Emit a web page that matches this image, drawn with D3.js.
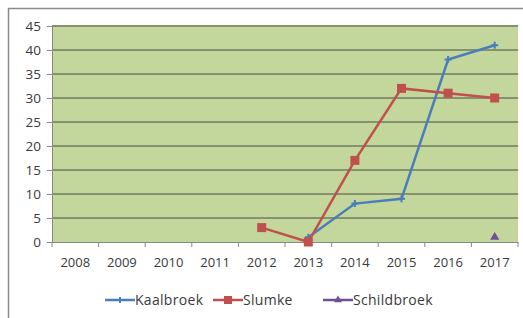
<!DOCTYPE html>
<html>
<head>
<meta charset="utf-8">
<script src="https://cdn.jsdelivr.net/npm/d3@7"></script>
<style>
  body { margin: 0; background: #fff; }
  text { font-family: 'Open Sans', sans-serif; fill: #3a3a3a; }
</style>
</head>
<body>
<div id="chart"></div>
<script>
// Data
const years = ['2008', '2009', '2010', '2011', '2012', '2013', '2014', '2015', '2016', '2017'];
const kaalbroek = [null, null, null, null, null, 1, 8, 9, 38, 41];
const slumke = [null, null, null, null, 3, 0, 17, 32, 31, 30];
const schildbroek = [null, null, null, null, null, null, null, null, null, 1];
const yTicks = [0, 5, 10, 15, 20, 25, 30, 35, 40, 45];

const series = [
  { name: 'Kaalbroek', values: kaalbroek, color: '#4a7ebb', marker: 'plus' },
  { name: 'Slumke', values: slumke, color: '#c0504d', marker: 'square' },
  { name: 'Schildbroek', values: schildbroek, color: '#6f4f96', marker: 'triangle' }
];

// Graph setup
const width = 523;
const height = 318;
const margin = { top: 26, right: 5, bottom: 75, left: 52 };

const svg = d3.select('#chart')
  .append('svg')
  .attr('width', width)
  .attr('height', height);

// outer chart border
svg.append('rect')
  .attr('x', 8.5).attr('y', 8.5)
  .attr('width', width + 10).attr('height', height + 10)
  .attr('fill', 'none')
  .attr('stroke', '#8a8a8a')
  .attr('stroke-width', 1.5);

const x = d3.scaleBand()
  .domain(years)
  .range([margin.left, width - margin.right]);

const y = d3.scaleLinear()
  .domain([0, 45])
  .range([height - margin.bottom - 1, margin.top]);

// plot area
svg.append('rect')
  .attr('x', margin.left)
  .attr('y', y(45))
  .attr('width', x.range()[1] - margin.left)
  .attr('height', y(0) - y(45))
  .attr('fill', '#c3d69b');

// gridlines
svg.append('g')
  .selectAll('line')
  .data(yTicks.filter(d => d > 0))
  .enter()
  .append('line')
  .attr('x1', margin.left)
  .attr('x2', x.range()[1])
  .attr('y1', d => y(d))
  .attr('y2', d => y(d))
  .attr('stroke', '#84936c')
  .attr('stroke-width', 2);

// y axis
const yAxis = svg.append('g')
  .attr('transform', `translate(${margin.left},0)`)
  .call(d3.axisLeft(y).tickValues(yTicks).tickSize(5).tickPadding(6));
yAxis.select('.domain').attr('stroke', '#888');
yAxis.selectAll('.tick line').attr('stroke', '#888');
yAxis.selectAll('text').style('font-size', '13.5px').attr('fill', '#3a3a3a');

// x axis (ticks between categories)
const xAxis = svg.append('g')
  .attr('transform', `translate(0,${y(0)})`)
  .call(d3.axisBottom(x).tickSize(0).tickPadding(16));
xAxis.select('.domain').attr('stroke', '#888');
xAxis.selectAll('text').style('font-size', '13px').attr('fill', '#3a3a3a');

svg.append('g')
  .selectAll('line')
  .data(years.concat(['end']))
  .enter()
  .append('line')
  .attr('x1', (d, i) => margin.left + i * x.step())
  .attr('x2', (d, i) => margin.left + i * x.step())
  .attr('y1', y(0))
  .attr('y2', y(0) + 5)
  .attr('stroke', '#888');

// lines and markers
const line = d3.line()
  .defined(d => d.v !== null)
  .x(d => x(d.year) + x.bandwidth() / 2)
  .y(d => y(d.v));

function drawMarker(g, type, color, size) {
  if (type === 'square') {
    g.append('rect')
      .attr('x', -size).attr('y', -size)
      .attr('width', size * 2).attr('height', size * 2)
      .attr('fill', color);
  } else if (type === 'triangle') {
    g.append('path')
      .attr('d', d3.symbol(d3.symbolTriangle, size * size * 3)())
      .attr('fill', color);
  } else {
    g.append('path')
      .attr('d', `M${-size},0H${size}M0,${-size}V${size}`)
      .attr('stroke', color)
      .attr('stroke-width', 2);
  }
}

series.forEach(s => {
  const pts = years.map((yr, i) => ({ year: yr, v: s.values[i] }));
  svg.append('path')
    .datum(pts)
    .attr('d', line)
    .attr('fill', 'none')
    .attr('stroke', s.color)
    .attr('stroke-width', 2.5);
  pts.filter(d => d.v !== null).forEach(d => {
    const g = svg.append('g')
      .attr('transform', `translate(${x(d.year) + x.bandwidth() / 2},${y(d.v)})`);
    drawMarker(g, s.marker, s.color, s.marker === 'square' ? 4.5 : 3.5);
  });
});

// legend
const legendX = [105, 213, 323];
const legendY = 300;
series.forEach((s, i) => {
  const g = svg.append('g').attr('transform', `translate(${legendX[i]},${legendY})`);
  g.append('line')
    .attr('x1', 0).attr('x2', 30)
    .attr('stroke', s.color)
    .attr('stroke-width', 2.5);
  const m = g.append('g').attr('transform', 'translate(15,0)');
  drawMarker(m, s.marker, s.color, s.marker === 'square' ? 4 : 3);
  g.append('text')
    .attr('x', 30)
    .attr('dy', '0.35em')
    .style('font-size', '14px')
    .style('letter-spacing', '0.3px')
    .text(s.name);
});
</script>
</body>
</html>
